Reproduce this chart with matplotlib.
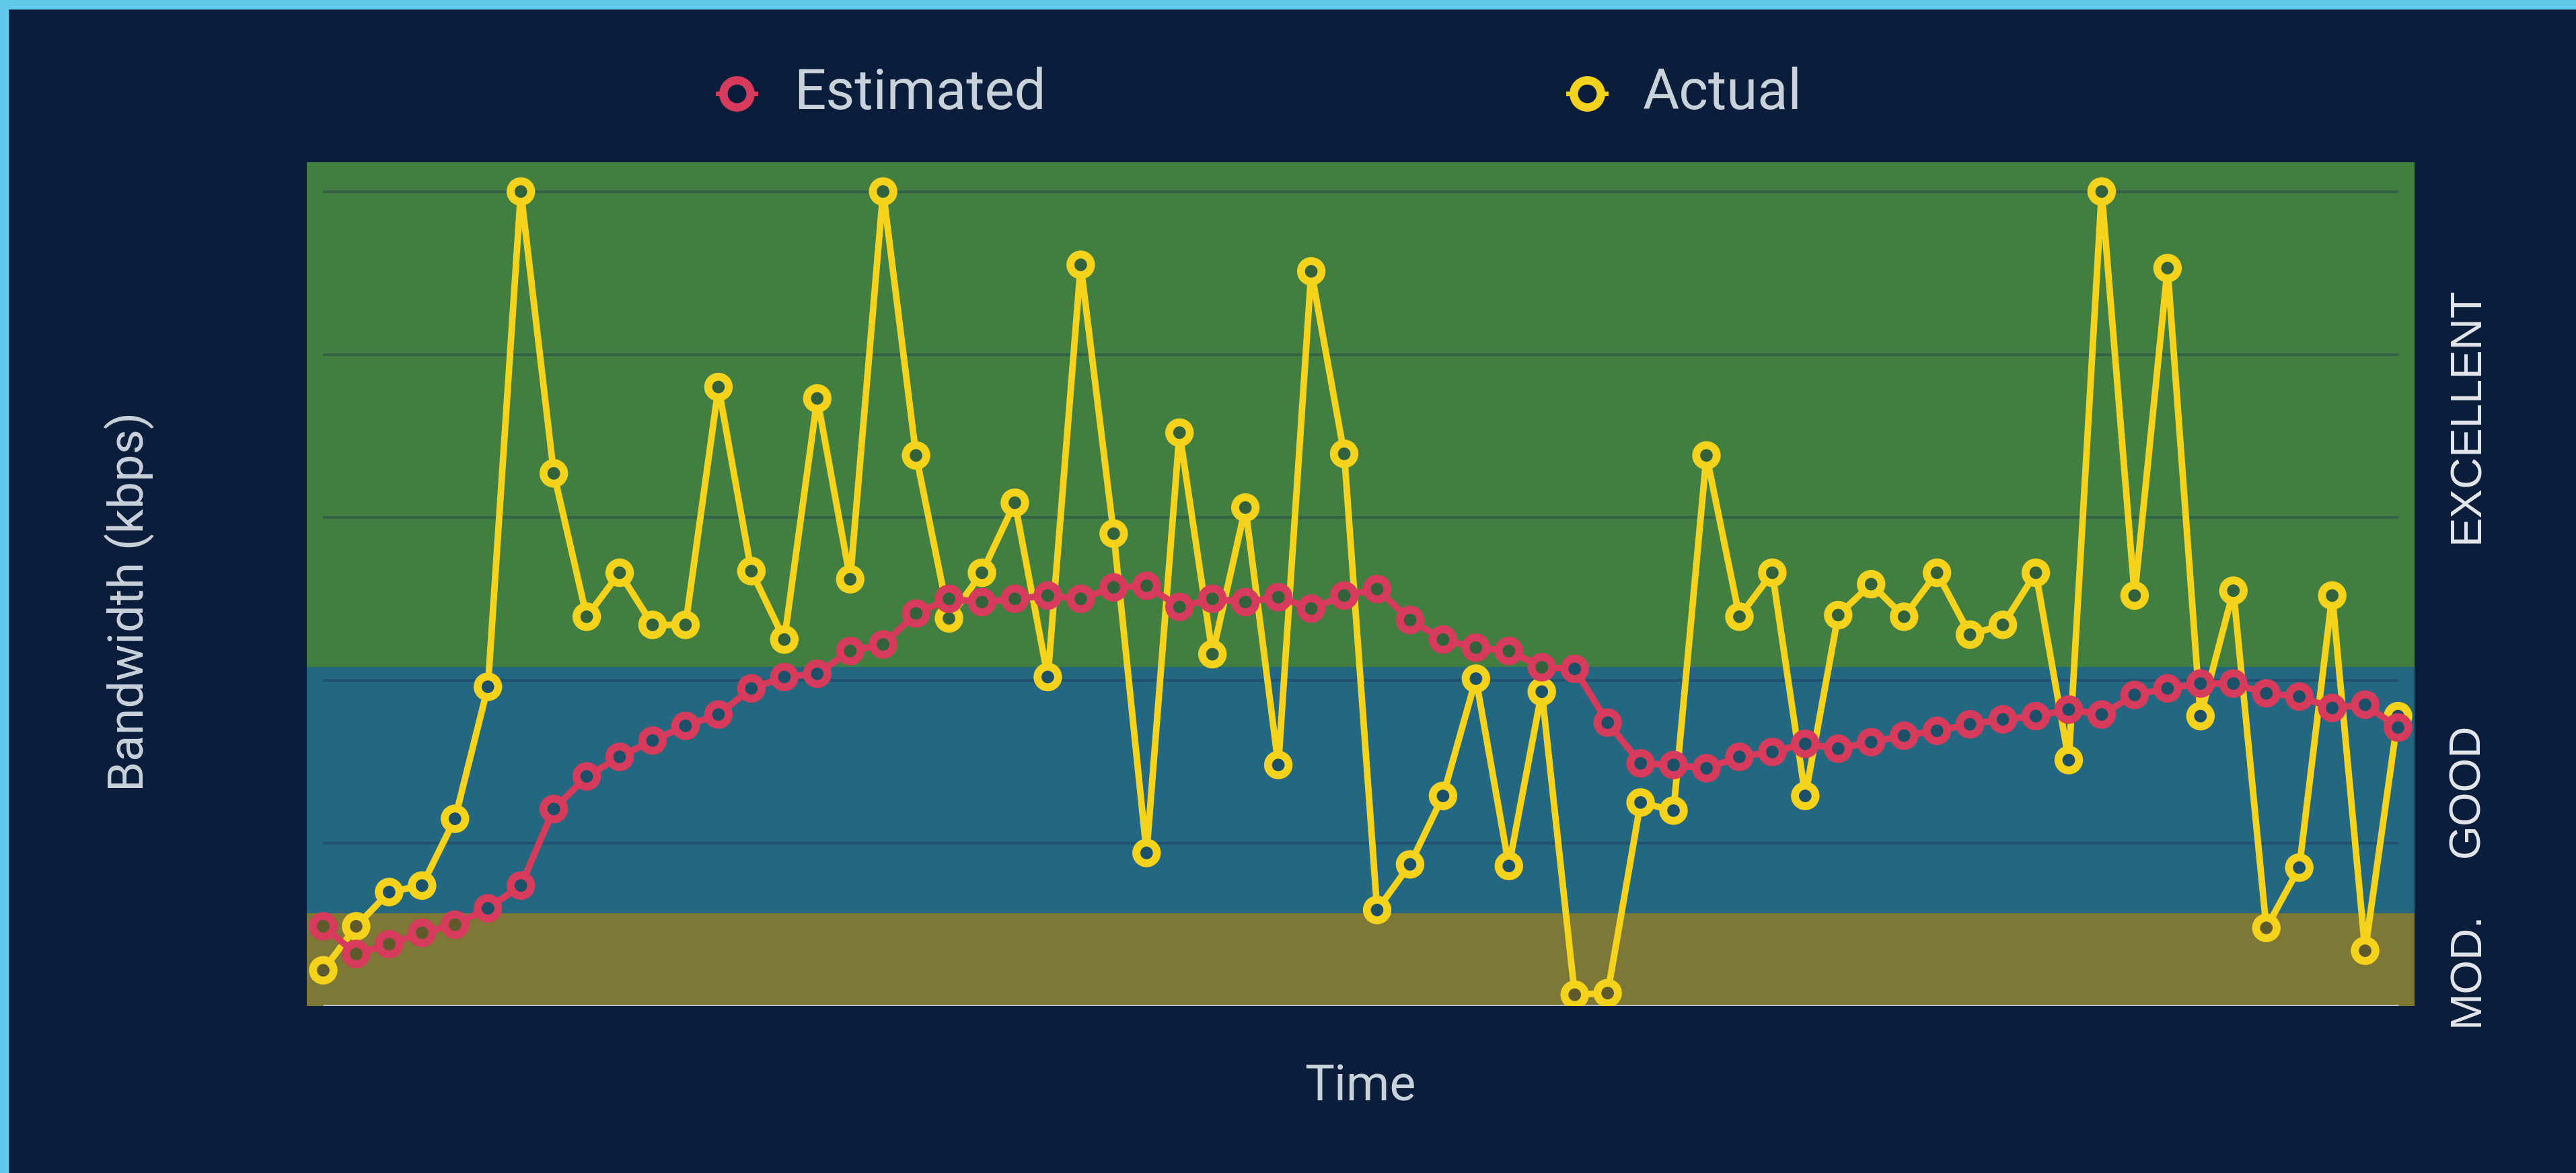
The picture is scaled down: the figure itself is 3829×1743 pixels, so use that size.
import numpy as np
import matplotlib.pyplot as plt
from matplotlib.lines import Line2D
from matplotlib.patches import Rectangle

# readings (one per time step), in gridline units
estimated = [0.49, 0.32, 0.38, 0.45, 0.50, 0.60, 0.74, 1.21, 1.41, 1.53,
             1.63, 1.72, 1.79, 1.95, 2.02, 2.04, 2.18, 2.22, 2.41, 2.50,
             2.48, 2.50, 2.52, 2.50, 2.57, 2.58, 2.45, 2.50, 2.48, 2.51,
             2.44, 2.52, 2.56, 2.37, 2.25, 2.20, 2.18, 2.08, 2.07, 1.74,
             1.49, 1.48, 1.46, 1.53, 1.56, 1.61, 1.58, 1.62, 1.66, 1.69,
             1.73, 1.76, 1.78, 1.82, 1.79, 1.91, 1.95, 1.98, 1.98, 1.92,
             1.90, 1.83, 1.85, 1.71]
actual = [0.22, 0.49, 0.70, 0.74, 1.15, 1.96, 5.00, 3.27, 2.39, 2.66,
          2.34, 2.34, 3.80, 2.67, 2.25, 3.73, 2.62, 5.00, 3.38, 2.38,
          2.66, 3.09, 2.02, 4.55, 2.90, 0.94, 3.52, 2.16, 3.06, 1.48,
          4.51, 3.39, 0.59, 0.87, 1.29, 2.01, 0.86, 1.93, 0.07, 0.08,
          1.25, 1.20, 3.38, 2.39, 2.66, 1.29, 2.40, 2.59, 2.39, 2.66,
          2.28, 2.34, 2.66, 1.51, 5.00, 2.52, 4.53, 1.78, 2.55, 0.48,
          0.85, 2.52, 0.34, 1.78]
time = np.arange(len(actual))

band_names = ['MOD.', 'GOOD', 'EXCELLENT']
band_edges = [0, 0.57, 2.08, 5.18]
band_colors = ['#7e7836', '#246781', '#437e41']
hole_colors = ['#5f5a2b', '#1c5068', '#32613a']
grid_levels = [1, 2, 3, 4, 5]

bg = '#0a1e3b'
yellow = '#f5d21c'
red = '#d63b5c'
txt = '#c9d1db'

plt.rcParams['font.family'] = ['Roboto', 'DejaVu Sans']

fig = plt.figure(figsize=(38.29, 17.43), dpi=100, facecolor=bg)
W, H = 3829, 1743
ax = fig.add_axes([456 / W, 1 - 1495 / H, (3589 - 456) / W, (1495 - 241) / H])
ax.set_facecolor(bg)

# light blue frame on top and left
fig.add_artist(Rectangle((0, 1 - 13 / H), 1, 13 / H, transform=fig.transFigure, color='#62c9ea'))
fig.add_artist(Rectangle((0, 0), 12 / W, 1, transform=fig.transFigure, color='#62c9ea'))

for i in range(3):
    ax.axhspan(band_edges[i], band_edges[i + 1], color=band_colors[i], lw=0, zorder=0)

ax.hlines(grid_levels, time[0], time[-1], color='#1a3050', alpha=0.35, lw=3, zorder=1)
ax.hlines(0, time[0], time[-1], color='#b9bec0', lw=3.6, zorder=2)


def hole(v):
    for i in range(3):
        if v < band_edges[i + 1]:
            return hole_colors[i]
    return hole_colors[-1]


for vals, col, z in [(actual, yellow, 3), (estimated, red, 5)]:
    ax.plot(time, vals, color=col, lw=7, zorder=z, solid_joinstyle='round')
    ax.scatter(time, vals, s=22 ** 2, facecolors=[hole(v) for v in vals],
               edgecolors=col, linewidths=8.5, zorder=z + 1)

ax.set_xlim(-0.5, len(time) - 0.5)
ax.set_ylim(band_edges[0], band_edges[-1])
ax.set_xticks([])
ax.set_yticks([])
for s in ax.spines.values():
    s.set_visible(False)

# band labels on the right
label_y = [0.23, (band_edges[1] + band_edges[2]) / 2, (band_edges[2] + band_edges[3]) / 2]
for name, yv in zip(band_names, label_y):
    ax.text((3667 - 456) / (3589 - 456), yv, name, transform=ax.get_yaxis_transform(),
            rotation=90, ha='center', va='center', fontsize=47, color='#e3e7eb',
            family=['Liberation Sans', 'DejaVu Sans'], clip_on=False)

fig.text(192 / W, 1 - 894 / H, 'Bandwidth (kbps)', rotation=90, ha='center', va='center',
         fontsize=52, color=txt)
fig.text(2022 / W, 1 - 1615 / H, 'Time', ha='center', va='center',
         fontsize=53, color=txt)

# legend
ly = 1 - 139 / H
for mx, tx, name, col in [(1095, 1180, 'Estimated', red), (2359, 2442, 'Actual', yellow)]:
    fig.add_artist(Line2D([(mx - 28) / W, (mx + 28) / W], [ly, ly], transform=fig.transFigure,
                          color=col, lw=5))
    fig.add_artist(Line2D([mx / W], [ly], transform=fig.transFigure, marker='o',
                          ms=29, mew=9, mfc=bg, mec=col, ls='none'))
    fig.text(tx / W, ly, name, ha='left', va='center', fontsize=60, color=txt)

fig.savefig('out.png', dpi=100, facecolor=bg)
